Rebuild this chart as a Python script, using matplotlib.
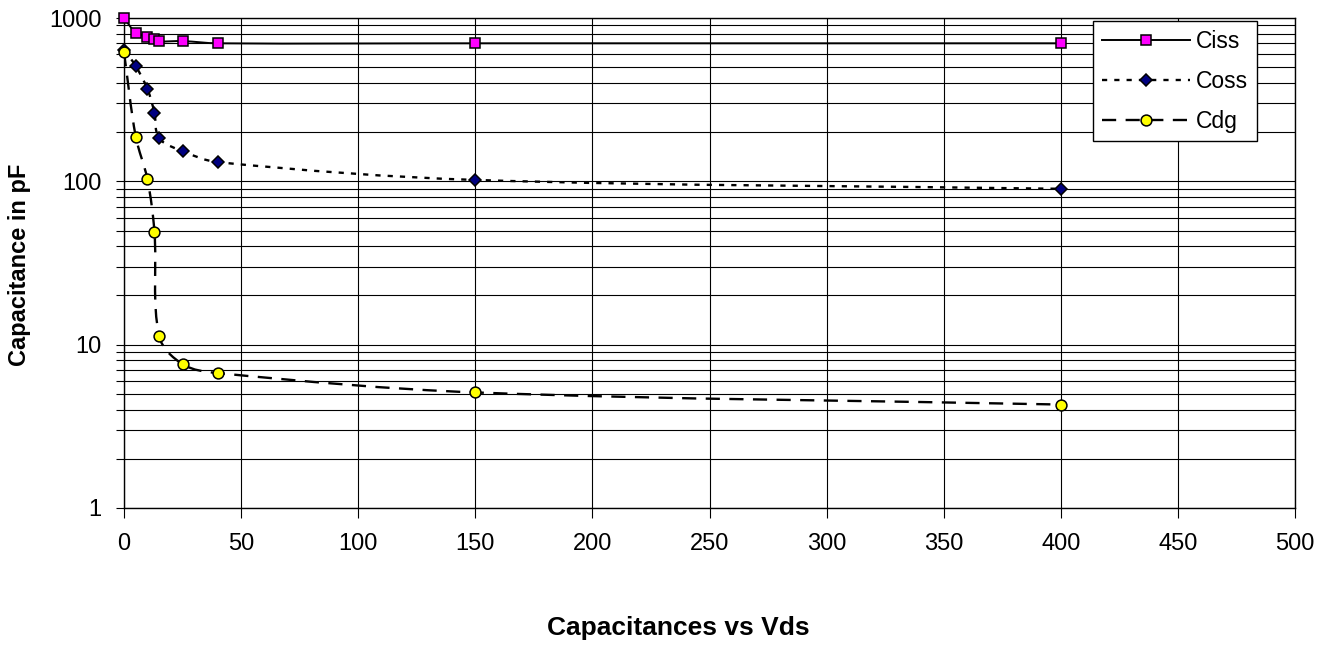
import numpy as np
import matplotlib
matplotlib.use("Agg")
import matplotlib.pyplot as plt
from matplotlib.path import Path
from matplotlib.patches import PathPatch
from matplotlib.lines import Line2D
from matplotlib.ticker import FixedLocator, NullFormatter, FuncFormatter

plt.rcParams['font.family'] = ['Liberation Sans', 'DejaVu Sans']

# ---- data ----
vds = [0, 5, 10, 13, 15, 25, 40, 150, 400]
ciss = [1000, 815, 765, 742, 720, 722, 700, 700, 700]
coss = [640, 508, 367, 263, 184, 153, 131, 102, 90]
cdg = [617, 188, 103, 49, 11.3, 7.6, 6.7, 5.1, 4.3]

x_ticks = [0, 50, 100, 150, 200, 250, 300, 350, 400, 450, 500]
y_major = [1, 10, 100, 1000]
series_names = ["Ciss", "Coss", "Cdg"]

W, H = 1328, 645
fig = plt.figure(figsize=(W / 100, H / 100), dpi=100)
ax = fig.add_axes([124 / W, 1 - 508 / H, (1295 - 124) / W, (508 - 18) / H])
ax.set_yscale('log')
ax.set_xlim(0, 500)
ax.set_ylim(1, 1000)

ax.set_xticks(x_ticks)
ax.yaxis.set_major_locator(FixedLocator(y_major))
minor = [m * d for d in [1, 10, 100] for m in range(2, 10)]
ax.yaxis.set_minor_locator(FixedLocator(minor))
ax.yaxis.set_minor_formatter(NullFormatter())
ax.yaxis.set_major_formatter(FuncFormatter(lambda v, p: f"{int(round(v))}"))

ax.grid(which='both', axis='y', color='black', lw=0.8)
ax.grid(which='major', axis='x', color='black', lw=0.8)
ax.set_axisbelow(True)
for s in ax.spines.values():
    s.set_color('black')
    s.set_linewidth(1.0)
ax.tick_params(axis='x', which='major', direction='out', length=7, width=0.8,
               labelsize=17, pad=11)
ax.tick_params(axis='y', which='both', direction='out', length=6, width=0.8,
               labelsize=17, pad=10)


def smooth_path(xs, ys):
    fig.canvas.draw()
    P = ax.transData.transform(np.column_stack([xs, ys]).astype(float))
    n = len(P)
    tangents = []
    for i in range(n):
        a = P[max(i - 1, 0)]
        b = P[min(i + 1, n - 1)]
        d = b - a
        nrm = np.hypot(*d)
        tangents.append(d / nrm if nrm > 0 else d)
    verts = [P[0]]
    codes = [Path.MOVETO]
    for i in range(n - 1):
        L = np.hypot(*(P[i + 1] - P[i]))
        c1 = P[i] + tangents[i] * L / 3
        c2 = P[i + 1] - tangents[i + 1] * L / 3
        verts += [c1, c2, P[i + 1]]
        codes += [Path.CURVE4] * 3
    vd = ax.transData.inverted().transform(np.array(verts))
    return Path(vd, codes)


styles = {
    "Ciss": dict(ls='-', lw=1.4, marker='s', mfc='#FF00FF', ms=7.5),
    "Coss": dict(ls=(0, (2.2, 3.0)), lw=1.7, marker='D', mfc='#000080', ms=6.5),
    "Cdg": dict(ls=(0, (6.0, 4.0)), lw=1.7, marker='o', mfc='#FFFF00', ms=7.8),
}
data = {"Ciss": ciss, "Coss": coss, "Cdg": cdg}

handles = []
for z, name in enumerate(series_names):
    st = styles[name]
    path = smooth_path(vds, data[name])
    patch = PathPatch(path, facecolor='none', edgecolor='black',
                      lw=st['lw'], linestyle=st['ls'], zorder=3 + z * 2,
                      capstyle='butt')
    ax.add_patch(patch)
    ax.plot(vds, data[name], linestyle='none', marker=st['marker'],
            mfc=st['mfc'], mec='black', mew=1.1, ms=st['ms'],
            zorder=4 + z * 2, clip_on=False)
    handles.append(Line2D([], [], color='black', lw=st['lw'], linestyle=st['ls'],
                          marker=st['marker'], mfc=st['mfc'], mec='black',
                          mew=1.1, ms=st['ms']))

leg = fig.legend(handles, series_names, loc='upper left',
                 bbox_to_anchor=(1093 / W, 1 - 21 / H), fontsize=16.5,
                 frameon=True, fancybox=False, shadow=False, framealpha=1,
                 edgecolor='black', handlelength=3.85, handletextpad=0.25,
                 labelspacing=0.74, borderpad=0.38, borderaxespad=0,
                 numpoints=1)
leg.get_frame().set_linewidth(1.0)

fig.text(19.5 / W, 1 - 264.5 / H, "Capacitance in pF", rotation=90, ha='center',
         va='center', fontsize=17, fontweight='bold')
fig.text(678 / W, 1 - 635 / H, "Capacitances vs Vds", ha='center',
         va='baseline', fontsize=19, fontweight='bold')

fig.savefig("out.png", dpi=100)
